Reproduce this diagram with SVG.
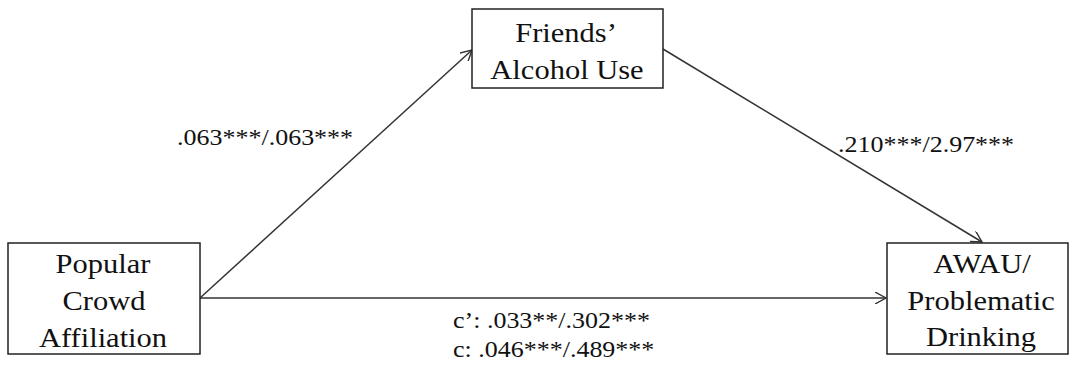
<svg xmlns="http://www.w3.org/2000/svg" width="1069" height="377" viewBox="0 0 1069 377">
<defs>
<marker id="arr" viewBox="0 0 12 12" refX="11" refY="6" markerWidth="12" markerHeight="12" markerUnits="userSpaceOnUse" orient="auto">
<path d="M0,0 L11,6 L0,12" fill="none" stroke="#333" stroke-width="1.4"/>
</marker>
</defs>
<rect width="1069" height="377" fill="#fff"/>
<g id="connectors" stroke="#333" stroke-width="1.5" fill="none" marker-end="url(#arr)">
<line x1="200" y1="298" x2="472" y2="50"/>
<line x1="663" y1="49" x2="982" y2="242"/>
<line x1="200" y1="298" x2="886" y2="298"/>
</g>
<g id="popular">
<rect x="8" y="243" width="192" height="111" fill="#fff" stroke="#222" stroke-width="1.5"/>
<text font-family="Liberation Serif" font-size="27" fill="#111" text-anchor="middle" transform="translate(103 273) scale(1.13 1)">Popular</text>
<text font-family="Liberation Serif" font-size="27" fill="#111" text-anchor="middle" transform="translate(104 310) scale(1.13 1)">Crowd</text>
<text font-family="Liberation Serif" font-size="27" fill="#111" text-anchor="middle" transform="translate(103 347) scale(1.13 1)">Affiliation</text>
</g>
<g id="friends">
<rect x="472" y="9" width="191" height="79" fill="#fff" stroke="#222" stroke-width="1.5"/>
<text font-family="Liberation Serif" font-size="27" fill="#111" text-anchor="middle" transform="translate(566 42) scale(1.13 1)">Friends’</text>
<text font-family="Liberation Serif" font-size="27" fill="#111" text-anchor="middle" transform="translate(567 79) scale(1.13 1)">Alcohol Use</text>
</g>
<g id="awau">
<rect x="887" y="243" width="181" height="111" fill="#fff" stroke="#222" stroke-width="1.5"/>
<text font-family="Liberation Serif" font-size="27" fill="#111" text-anchor="middle" transform="translate(982 273) scale(1.13 1)">AWAU/</text>
<text font-family="Liberation Serif" font-size="27" fill="#111" text-anchor="middle" transform="translate(981 310) scale(1.13 1)">Problematic</text>
<text font-family="Liberation Serif" font-size="27" fill="#111" text-anchor="middle" transform="translate(981 346) scale(1.13 1)">Drinking</text>
</g>
<g id="labels">
<text font-family="Liberation Serif" font-size="23" fill="#111" transform="translate(177 145) scale(1.13 1)">.063***/.063***</text>
<text font-family="Liberation Serif" font-size="23" fill="#111" transform="translate(838 152) scale(1.13 1)">.210***/2.97***</text>
<text font-family="Liberation Serif" font-size="23" fill="#111" transform="translate(453 328) scale(1.13 1)">c’: .033**/.302***</text>
<text font-family="Liberation Serif" font-size="23" fill="#111" transform="translate(453 357) scale(1.13 1)">c: .046***/.489***</text>
</g>
</svg>
